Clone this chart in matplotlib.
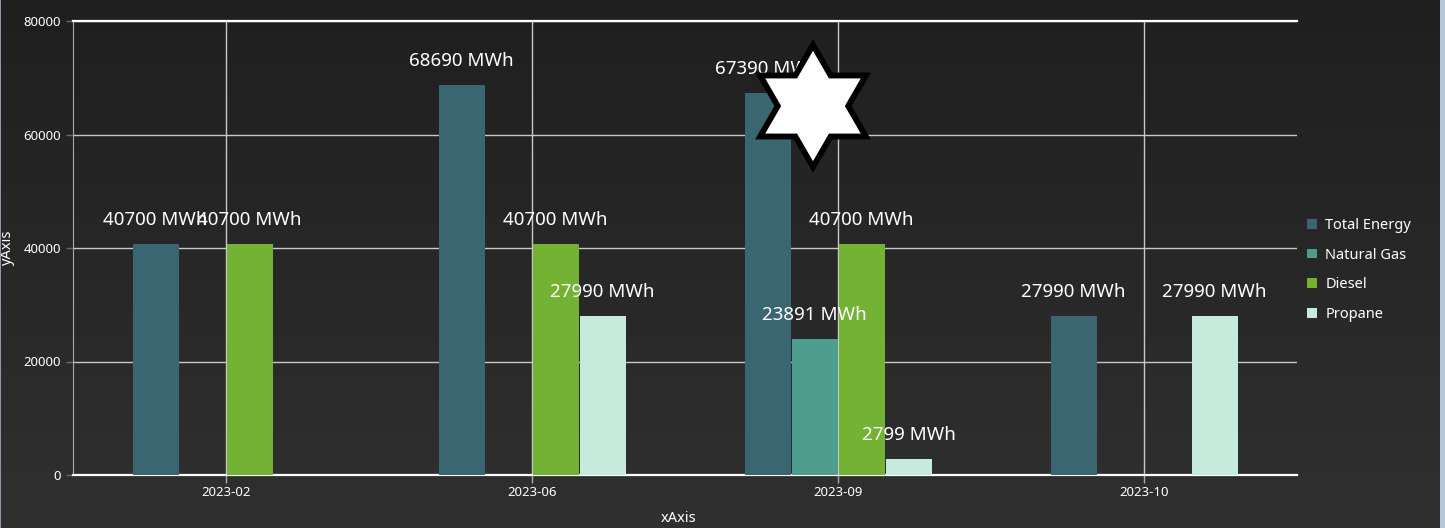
import numpy as np
import matplotlib
matplotlib.use("Agg")
import matplotlib.pyplot as plt
from matplotlib.patches import Polygon, Rectangle, Patch

plt.rcParams['font.family'] = ['Noto Sans', 'DejaVu Sans']

categories = ["2023-02", "2023-06", "2023-09", "2023-10"]
series_names = ["Total Energy", "Natural Gas", "Diesel", "Propane"]
total_energy = [40700, 68690, 67390, 27990]
natural_gas = [0, 0, 23891, 0]
diesel = [40700, 40700, 40700, 0]
propane = [0, 27990, 2799, 27990]
series_values = [total_energy, natural_gas, diesel, propane]
colors = ["#3a6672", "#4e9d8f", "#74b234", "#c6eadc"]
y_ticks = [0, 20000, 40000, 60000, 80000]

W, H = 1445, 528
fig = plt.figure(figsize=(W / 100, H / 100), dpi=100)

# background gradient
bg = fig.add_axes([0, 0, 1, 1], zorder=-10)
grad = np.linspace(0, 1, 256).reshape(-1, 1)
top = np.array([0x1f, 0x1f, 0x1f]) / 255
bot = np.array([0x30, 0x30, 0x30]) / 255
img = top + (bot - top) * grad[..., None]
bg.imshow(img, aspect='auto', extent=[0, 1, 0, 1], origin='upper')
bg.set_xlim(0, 1); bg.set_ylim(0, 1)
bg.axis('off')

ax = fig.add_axes([73 / W, 1 - 475 / H, (1297 - 73) / W, (475 - 21) / H])
ax.set_facecolor('none')

x = np.arange(len(categories))
step = 47 / 306
bw = 46 / 306
for i, (name, vals, c) in enumerate(zip(series_names, series_values, colors)):
    xs = x + (i - 1.5) * step
    ax.bar(xs, vals, width=bw, color=c, label=name, zorder=3)
    for xi, v in zip(xs, vals):
        if v:
            ax.annotate(f"{v} MWh", (xi, v), xytext=(0, 24), textcoords='offset pixels',
                        ha='center', va='center', color='white', fontsize=13.5, zorder=5)

ax.set_xlim(-0.5, 3.5)
ax.set_ylim(0, 80000)
ax.set_xticks(x)
ax.set_xticklabels(categories)
ax.set_yticks(y_ticks)
ax.set_yticklabels([str(t) for t in y_ticks])
ax.grid(True, color='#c8c8c8', linewidth=1, zorder=1)
ax.tick_params(axis='y', colors='#4f7192', labelcolor='white', length=5, width=1, labelsize=9.5)
ax.tick_params(axis='x', colors='#aaaaaa', labelcolor='white', length=6, width=1, labelsize=9.5, pad=2)
ax.spines['right'].set_visible(False)
ax.spines['left'].set_color('#aaaaaa')
ax.spines['bottom'].set_color('white')
ax.spines['bottom'].set_linewidth(1.6)
ax.spines['top'].set_color('white')
ax.spines['top'].set_linewidth(1.6)

fig.text(8 / W, 1 - 248 / H, "yAxis", rotation=90, color='white', fontsize=10.5, ha='center', va='center')
fig.text(679 / W, 1 - 518 / H, "xAxis", color='white', fontsize=10.5, ha='center', va='center')

handles = [Patch(facecolor=c, edgecolor='none') for c in colors]
fig.legend(handles, series_names, loc='center left', bbox_to_anchor=(1294 / W, 1 - 270 / H),
           frameon=False, labelcolor='white', fontsize=10.5, handlelength=0.65, handleheight=0.65,
           handletextpad=0.6, labelspacing=1.0)

# overlay for decorations
ov = fig.add_axes([0, 0, 1, 1], zorder=20)
ov.set_xlim(0, W); ov.set_ylim(H, 0)
ov.axis('off')
cx, cy, r = 813, 106, 61
ri = r / np.sqrt(3)
pts = []
for k in range(12):
    ang = np.deg2rad(90 + 30 * k)
    rr = r if k % 2 == 0 else ri
    pts.append((cx + rr * np.cos(ang), cy - rr * np.sin(ang)))
ov.add_patch(Polygon(pts, closed=True, facecolor='white', edgecolor='black', linewidth=4.2, joinstyle='miter'))
ov.add_patch(Rectangle((1440, 0), 5, H, facecolor='#b9c5d9', edgecolor='none'))
ov.add_patch(Rectangle((0, 0), 1, H, facecolor='#8a98ad', edgecolor='none'))

fig.savefig("out.png", dpi=100)
